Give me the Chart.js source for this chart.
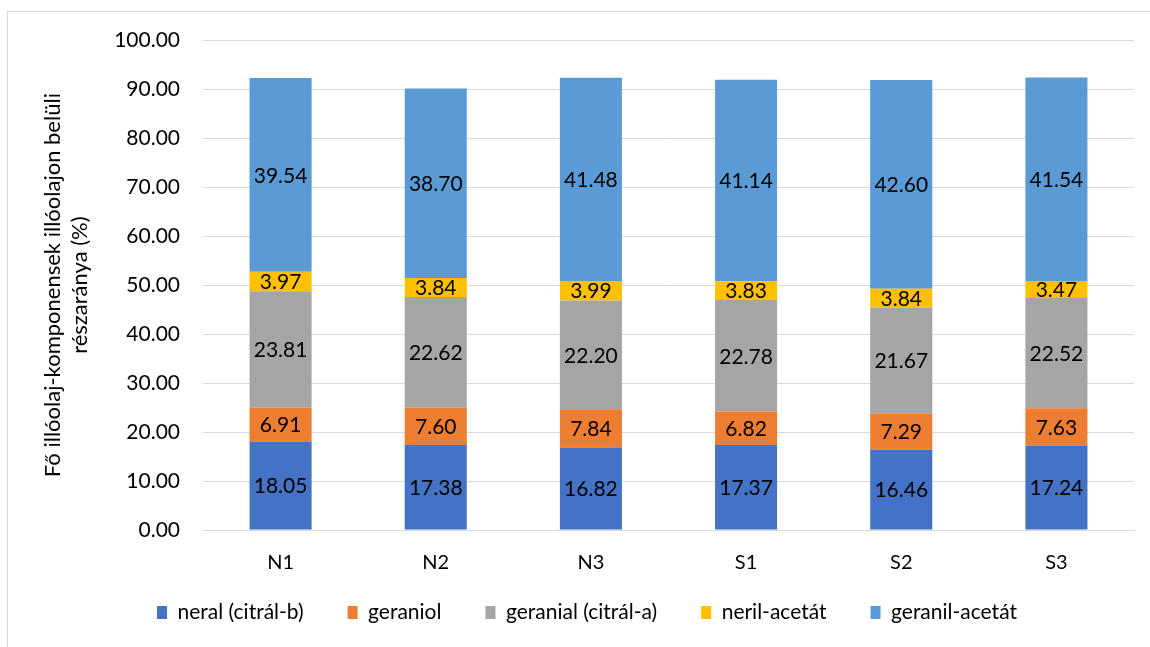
<!DOCTYPE html>
<html>
<head>
<meta charset="utf-8">
<script src="https://cdn.jsdelivr.net/npm/chart.js@4/dist/chart.umd.min.js"></script>
<style>
  html, body { margin: 0; padding: 0; background: #fff; overflow: hidden; }
  #wrap {
    position: absolute; left: 7px; top: 11px;
    width: 1160px; height: 660px;
    border: 1px solid #d9d9d9;
  }
  canvas { display: block; }
</style>
</head>
<body>
<div id="wrap"><canvas id="oilChart" width="1142" height="635"></canvas></div>
<script>
// Minták
const samples = ["N1", "N2", "N3", "S1", "S2", "S3"];

// Komponensek aránya (%)
const neral = [18.05, 17.38, 16.82, 17.37, 16.46, 17.24];
const geraniol = [6.91, 7.60, 7.84, 6.82, 7.29, 7.63];
const geranial = [23.81, 22.62, 22.20, 22.78, 21.67, 22.52];
const nerilAcetat = [3.97, 3.84, 3.99, 3.83, 3.84, 3.47];
const geranilAcetat = [39.54, 38.70, 41.48, 41.14, 42.60, 41.54];

const FONT = "Lato, 'Open Sans', sans-serif";

// Értékek kiírása a sávok közepére
const barValues = {
    id: "barValues",
    afterDatasetsDraw(chart) {
        const ctx = chart.ctx;
        ctx.save();
        ctx.font = "21px " + FONT;
        ctx.fillStyle = "#000";
        ctx.textAlign = "center";
        ctx.textBaseline = "middle";
        chart.data.datasets.forEach((ds, i) => {
            const meta = chart.getDatasetMeta(i);
            meta.data.forEach((bar, j) => {
                const y = (bar.y + bar.base) / 2;
                ctx.fillText(ds.data[j].toFixed(2), bar.x, y + 1);
            });
        });
        ctx.restore();
    }
};

// Minta nevek az x tengely alá (a tengely doboza keskenyebb, mint a felirat)
const sampleLabels = {
    id: "sampleLabels",
    afterDraw(chart) {
        const ctx = chart.ctx;
        const xs = chart.scales.x;
        ctx.save();
        ctx.font = "20px " + FONT;
        ctx.fillStyle = "#000";
        ctx.textAlign = "center";
        ctx.textBaseline = "middle";
        samples.forEach((s, i) => {
            ctx.fillText(s, xs.getPixelForTick(i), xs.top + 33);
        });
        ctx.restore();
    }
};

const ctx = document.getElementById("oilChart").getContext("2d");
new Chart(ctx, {
    type: "bar",
    data: {
        labels: samples,
        datasets: [
            { label: "neral (citrál-b)", data: neral, backgroundColor: "#4472C4" },
            { label: "geraniol", data: geraniol, backgroundColor: "#ED7D31" },
            { label: "geranial (citrál-a)", data: geranial, backgroundColor: "#A5A5A5" },
            { label: "neril-acetát", data: nerilAcetat, backgroundColor: "#FFC000" },
            { label: "geranil-acetát", data: geranilAcetat, backgroundColor: "#5B9BD5" }
        ]
    },
    options: {
        responsive: false,
        animation: false,
        layout: { padding: { top: 28, right: 16, left: 32, bottom: 14 } },
        datasets: { bar: { categoryPercentage: 1, barPercentage: 0.4 } },
        plugins: {
            tooltip: { enabled: false },
            legend: {
                position: "bottom",
                labels: {
                    font: { family: FONT, size: 21 },
                    color: "#000",
                    boxWidth: 10,
                    boxHeight: 13,
                    padding: 44
                }
            }
        },
        scales: {
            x: {
                stacked: true,
                grid: { display: false, drawTicks: false },
                border: { color: "#d9d9d9" },
                ticks: { display: false },
                afterFit(scale) { scale.height = 28; }
            },
            y: {
                stacked: true,
                min: 0,
                max: 100,
                grid: { color: "#d9d9d9", drawTicks: false },
                border: { display: false },
                ticks: {
                    stepSize: 10,
                    font: { family: FONT, size: 21, lineHeight: 0.5 },
                    color: "#000",
                    padding: 23,
                    callback: v => v.toFixed(2)
                },
                title: {
                    display: true,
                    text: ["Fő illóolaj-komponensek illóolajon belüli", "részaránya (%)"],
                    font: { family: FONT, size: 22 },
                    color: "#000",
                    padding: { top: 0, bottom: 10 }
                },
                afterFit(scale) { scale.width = 163; }
            }
        }
    },
    plugins: [barValues, sampleLabels]
});
</script>
</body>
</html>
